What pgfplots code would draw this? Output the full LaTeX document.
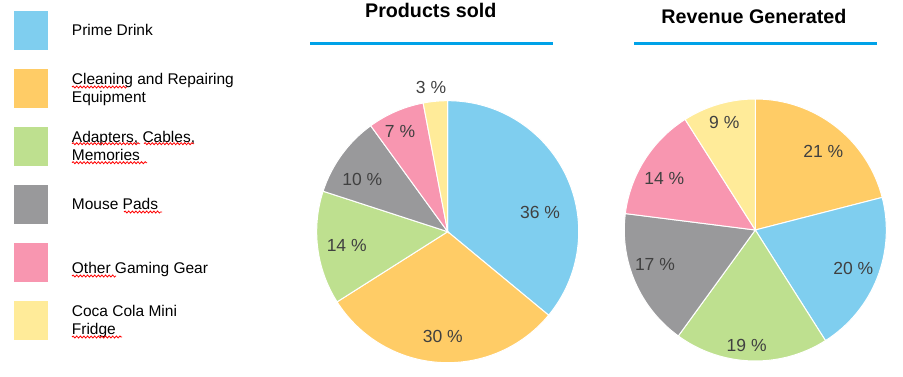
\documentclass[border=0pt]{standalone}
\usepackage{pgfplots}
\usepackage{pgfplotstable}
\pgfplotsset{compat=1.18}
\usepackage{etoolbox}
\usetikzlibrary{decorations.pathmorphing}
\usepackage{fontspec}
\setmainfont{Liberation Sans}

\definecolor{cPrime}{RGB}{127,206,239}
\definecolor{cClean}{RGB}{255,204,102}
\definecolor{cAdapt}{RGB}{190,224,143}
\definecolor{cMouse}{RGB}{153,153,155}
\definecolor{cOther}{RGB}{248,150,176}
\definecolor{cCoca}{RGB}{255,235,153}
\definecolor{cLine}{RGB}{0,162,232}
\definecolor{cLabel}{RGB}{64,64,64}

% share in percent; lx, ly = label position in axis units (radius = 1)
\pgfplotstableread{
category share color lx ly
Prime    36 cPrime  0.705  0.143
Cleaning 30 cClean -0.038 -0.802
Adapters 14 cAdapt -0.771 -0.109
Mouse    10 cMouse -0.652  0.400
Other     7 cOther -0.364  0.763
Coca      3 cCoca  -0.127  1.102
}\prodtable

\pgfplotstableread{
category share color lx ly
Cleaning 21 cClean  0.519  0.598
Prime    20 cPrime  0.748 -0.292
Adapters 19 cAdapt -0.066 -0.878
Mouse    17 cMouse -0.766 -0.267
Other    14 cOther -0.695  0.395
Coca      9 cCoca  -0.237  0.822
}\revtable

\tikzset{pielabel/.style={font=\fontsize{17.5}{20}\selectfont, text=cLabel, inner sep=0pt, anchor=center}}

% #1 table, #2 macro for slices, #3 macro for labels
\newcommand\buildpie[3]{%
  \gdef#2{}\gdef#3{}%
  \xdef\pieacc{90}%
  \pgfplotstableforeachcolumnelement{share}\of#1\as\pieval{%
    \pgfplotstablegetelem{\pgfplotstablerow}{color}\of#1\let\piecol\pgfplotsretval
    \pgfplotstablegetelem{\pgfplotstablerow}{lx}\of#1\let\pielx\pgfplotsretval
    \pgfplotstablegetelem{\pgfplotstablerow}{ly}\of#1\let\piely\pgfplotsretval
    \pgfmathsetmacro\pieend{\pieacc-3.6*\pieval}%
    \pgfmathsetmacro\piecx{cos(\pieacc)}%
    \pgfmathsetmacro\piecy{sin(\pieacc)}%
    \xappto#2{\noexpand\addplot[fill=\piecol,draw=white,line width=1pt] coordinates {(0,0) (\piecx,\piecy)} arc[start angle=\pieacc, end angle=\pieend, radius=131pt] -- cycle;}%
    \xappto#3{\noexpand\node[pielabel] at (axis cs:\pielx,\piely) {\pieval\noexpand\ \noexpand\%};}%
    \xdef\pieacc{\pieend}%
  }%
}
\buildpie{\prodtable}{\prodslices}{\prodlabels}
\buildpie{\revtable}{\revslices}{\revlabels}

\begin{document}
\begin{tikzpicture}
\path[use as bounding box] (0pt,0pt) rectangle (903pt,377pt);

\begin{axis}[
  at={(447.7pt,145.3pt)}, anchor=center,
  x=131pt, y=131pt, xmin=-1.02, xmax=1.02, ymin=-1.02, ymax=1.02,
  hide axis, clip=false,
  title={Products sold},
  title style={at={(0.4367,1.280)}, anchor=base, inner sep=0pt, font=\bfseries\fontsize{19.7}{24}\selectfont},
  legend entries={Prime Drink, {Cleaning and Repairing\\Equipment}, {Adapters, Cables,\\Memories}, Mouse Pads, {\raisebox{-6pt}[\height][\depth]{Other Gaming Gear}}, {Coca Cola Mini\\Fridge}},
  legend cell align=left,
  legend style={at={(-1.1269,1.3308)}, anchor=north west, draw=none, fill=none,
    inner sep=0pt, outer sep=0pt, row sep=17pt, column sep=23pt,
    nodes={inner sep=0pt, align=left}, font=\fontsize{15.5}{18}\selectfont},
  legend image code/.code={\path[#1,draw=none] (0pt,-16.5pt) rectangle (35pt,16.5pt); \path (0pt,-20pt) rectangle (35pt,20pt);},
]
\prodslices
\prodlabels
\end{axis}

\begin{axis}[
  at={(755.3pt,147pt)}, anchor=center,
  x=131pt, y=131pt, xmin=-1.02, xmax=1.02, ymin=-1.02, ymax=1.02,
  hide axis, clip=false,
  title={Revenue Generated},
  title style={at={(0.495,1.252)}, anchor=base, inner sep=0pt, font=\bfseries\fontsize{19.7}{24}\selectfont},
]
\revslices
\revlabels
\end{axis}

\draw[cLine, line width=2.7pt] (310pt,333.2pt) -- (552.7pt,333.2pt);
\draw[cLine, line width=2.7pt] (634.3pt,333.5pt) -- (877.3pt,333.5pt);

\begin{scope}[red, line width=0.8pt, decoration={snake, segment length=3.6pt, amplitude=1pt}]
\draw[decorate] (72pt,290pt) -- (127pt,290pt);
\draw[decorate] (72pt,233.3pt) -- (140pt,233.3pt);
\draw[decorate] (144pt,233.3pt) -- (194pt,233.3pt);
\draw[decorate] (72pt,214.3pt) -- (147pt,214.3pt);
\draw[decorate] (124pt,165pt) -- (162pt,165pt);
\draw[decorate] (72pt,101pt) -- (116pt,101pt);
\draw[decorate] (72pt,40pt) -- (122pt,40pt);
\end{scope}
\end{tikzpicture}
\end{document}
